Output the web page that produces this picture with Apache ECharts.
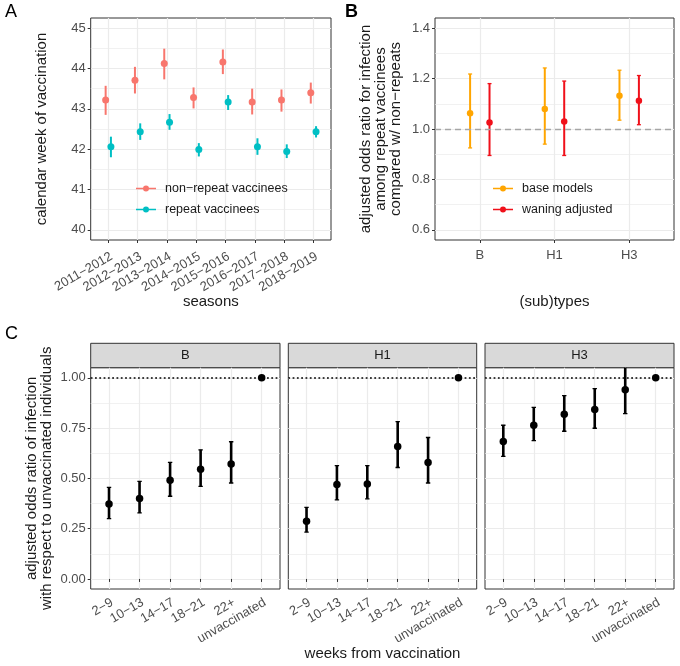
<!DOCTYPE html>
<html><head><meta charset="utf-8">
<script src="https://cdn.jsdelivr.net/npm/echarts@6/dist/echarts.min.js"></script>
<style>html,body{margin:0;padding:0;background:#fff}#c{width:680px;height:666px}</style>
</head><body><div id="c"></div>
<script>
// ---------- Panel A data ----------
const seasons = ['2011−2012','2012−2013','2013−2014','2014−2015','2015−2016','2016−2017','2017−2018','2018−2019'];
const nonRepeatMean = [43.22,43.71,44.12,43.28,44.16,43.17,43.22,43.40];
const nonRepeatLo   = [42.85,43.38,43.73,43.01,43.86,42.86,42.93,43.13];
const nonRepeatHi   = [43.57,44.04,44.49,43.53,44.47,43.50,43.48,43.65];
const repeatMean    = [42.06,42.43,42.67,41.99,43.17,42.06,41.94,42.43];
const repeatLo      = [41.80,42.23,42.48,41.82,42.97,41.86,41.78,42.29];
const repeatHi      = [42.31,42.64,42.87,42.15,43.34,42.27,42.12,42.57];
const weekTicksA = [40,41,42,43,44,45];
const weekMinorA = [40.5,41.5,42.5,43.5,44.5];

// ---------- Panel B data ----------
const subtypes = ['B','H1','H3'];
const baseMean  = [1.062,1.079,1.132];
const baseLo    = [0.925,0.940,1.035];
const baseHi    = [1.218,1.242,1.233];
const waningMean= [1.026,1.030,1.112];
const waningLo  = [0.895,0.895,1.017];
const waningHi  = [1.180,1.190,1.212];
const orTicksB = [0.6,0.8,1.0,1.2,1.4];
const orMinorB = [0.7,0.9,1.1,1.3];

// ---------- Panel C data ----------
const weekBins = ['2−9','10−13','14−17','18−21','22+','unvaccinated'];
const facets = ['B','H1','H3'];
const cMean = {
  B:  [0.372,0.400,0.490,0.545,0.571,1.0],
  H1: [0.287,0.469,0.472,0.658,0.579,1.0],
  H3: [0.683,0.764,0.818,0.842,0.941,1.0]
};
const cLo = {
  B:  [0.300,0.328,0.411,0.460,0.477,null],
  H1: [0.233,0.393,0.398,0.554,0.477,null],
  H3: [0.609,0.688,0.734,0.749,0.822,null]
};
const cHi = {
  B:  [0.455,0.485,0.579,0.642,0.682,null],
  H1: [0.356,0.563,0.563,0.782,0.703,null],
  H3: [0.764,0.853,0.911,0.946,1.070,null]
};
const orTicksC = [0,0.25,0.5,0.75,1];
const orMinorC = [0.125,0.375,0.625,0.875];

// ---------- styling / layout ----------
const F = 'Liberation Sans, Arial, Helvetica, sans-serif';
const GRID = '#ebebeb', BORDER = '#333333', TICKC = '#4d4d4d';
const LAY = {
  A: {left:90.7, top:18, width:240.3, height:222},
  B: {left:435, top:18, width:239, height:222},
  C: [{left:90.7, width:189.3},{left:288.3, width:188.4},{left:485, width:189}],
  cTop:367.7, cHeight:221.3, stripTop:343.3, stripH:24.4
};

function idx(n){ return Array.from({length:n},(_, i)=>i+1); }

function gridOf(l){
  return {left:l.left, top:l.top, width:l.width, height:l.height, show:true,
    borderColor:BORDER, borderWidth:1, backgroundColor:'#fff',
    containLabel:false, outerBoundsMode:'none'};
}
function xAxisOf(g, n, labels, o){
  o = o || {};
  const ticks = idx(n);
  const lab = {show:true, customValues:ticks, formatter:v=>labels[Math.round(v)-1],
      rotate:o.rotate||0, color:TICKC, fontSize:13, fontFamily:F, margin:o.margin||5, hideOverlap:false};
  if (o.rotate){ lab.align = 'right'; lab.verticalAlign = 'top'; }
  return {type:'value', gridIndex:g, min:1-o.exp, max:n+o.exp,
    axisLine:{show:false},
    axisTick:{show:true, length:3, lineStyle:{color:BORDER,width:1}, customValues:ticks},
    axisLabel:lab,
    splitLine:{show:true, lineStyle:{color:GRID,width:1.2}},
    name:o.name||'', nameLocation:'middle', nameGap:o.nameGap||30, nameMoveOverlap:false,
    nameTextStyle:{fontSize:15, color:'#1a1a1a', fontFamily:F}};
}
function yAxisOf(g, min, max, ticks, fmt, o){
  o = o || {};
  return {type:'value', gridIndex:g, min:min, max:max, position:'left',
    axisLine:{show:false},
    axisTick:{show:!o.hide, length:3, lineStyle:{color:BORDER,width:1}, customValues:ticks},
    axisLabel:{show:!o.hide, customValues:ticks, formatter:fmt, color:TICKC, fontSize:13, fontFamily:F, margin:5},
    splitLine:{show:true, lineStyle:{color:GRID,width:1.2}},
    name:o.name||'', nameLocation:'middle', nameGap:o.nameGap||30, nameMoveOverlap:false,
    nameTextStyle:{fontSize:15, color:'#1a1a1a', fontFamily:F, lineHeight:15, align:'center'}};
}
function yMinorOf(g, min, max, ticks){
  return {type:'value', gridIndex:g, min:min, max:max, position:'left',
    axisLine:{show:false}, axisLabel:{show:false},
    axisTick:{show:false, customValues:ticks},
    splitLine:{show:true, lineStyle:{color:GRID,width:0.7}}};
}
function errorBar(color, lw, cap){
  return function(params, api){
    const x = api.value(0);
    const a = api.coord([x, api.value(1)]);
    const b = api.coord([x, api.value(2)]);
    const ch = [{type:'line', shape:{x1:a[0],y1:a[1],x2:b[0],y2:b[1]}, style:{stroke:color,lineWidth:lw}}];
    if (cap > 0){
      ch.push({type:'line', shape:{x1:a[0]-cap,y1:a[1],x2:a[0]+cap,y2:a[1]}, style:{stroke:color,lineWidth:1.3}});
      ch.push({type:'line', shape:{x1:b[0]-cap,y1:b[1],x2:b[0]+cap,y2:b[1]}, style:{stroke:color,lineWidth:1.3}});
    }
    return {type:'group', children:ch};
  };
}
const keyIcon = 'path://M0,2.35H20V3.65H0Z M7,3A3,3 0 1,1 13,3A3,3 0 1,1 7,3Z';

// ---------- build ----------
const grids = [gridOf(LAY.A), gridOf(LAY.B)];
LAY.C.forEach(c => grids.push(gridOf({left:c.left, top:LAY.cTop, width:c.width, height:LAY.cHeight})));

const xAxes = [
  xAxisOf(0, seasons.length, seasons, {exp:0.6, rotate:30, margin:10, name:'seasons', nameGap:54}),
  xAxisOf(1, subtypes.length, subtypes, {exp:0.6, margin:9, name:'(sub)types', nameGap:54}),
  xAxisOf(2, weekBins.length, weekBins, {exp:0.6, rotate:30, margin:7}),
  xAxisOf(3, weekBins.length, weekBins, {exp:0.6, rotate:30, margin:7, name:'weeks from vaccination', nameGap:57}),
  xAxisOf(4, weekBins.length, weekBins, {exp:0.6, rotate:30, margin:7})
];
const yAxes = [
  yAxisOf(0, 39.75, 45.25, weekTicksA, v=>String(v), {name:'calendar week of vaccination', nameGap:41}),
  yMinorOf(0, 39.75, 45.25, weekMinorA),
  yAxisOf(1, 0.56, 1.44, orTicksB, v=>v.toFixed(1), {name:'adjusted odds ratio for infection\namong repeat vaccinees\ncompared w/ non−repeats', nameGap:32}),
  yMinorOf(1, 0.56, 1.44, orMinorB)
];
facets.forEach((f, k) => {
  const g = 2 + k;
  yAxes.push(yAxisOf(g, -0.05, 1.05, orTicksC, v=>v.toFixed(2),
    k === 0 ? {name:'adjusted odds ratio of infection\nwith respect to unvaccinated individuals', nameGap:36} : {hide:true}));
  yAxes.push(yMinorOf(g, -0.05, 1.05, orMinorC));
});

const series = [];
function addPointRange(name, xi, yi, mean, lo, hi, dodge, color, lw, cap, size){
  series.push({type:'custom', name:name+'_err', coordinateSystem:'cartesian2d', xAxisIndex:xi, yAxisIndex:yi,
    clip:true, silent:true, z:2,
    data: mean.map((m,i)=>[i+1+dodge, lo[i], hi[i]]).filter(d=>d[1]!=null),
    renderItem: errorBar(color, lw, cap)});
  series.push({type:'scatter', name:name, xAxisIndex:xi, yAxisIndex:yi, z:3, silent:true,
    symbol:'circle', symbolSize:size, itemStyle:{color:color, opacity:1},
    data: mean.map((m,i)=>[i+1+dodge, m])});
}
addPointRange('non−repeat vaccinees', 0, 0, nonRepeatMean, nonRepeatLo, nonRepeatHi, -0.09, '#F8766D', 2, 0, 7);
addPointRange('repeat vaccinees', 0, 0, repeatMean, repeatLo, repeatHi, 0.09, '#00BFC4', 2, 0, 7);

series.push({type:'scatter', name:'refB', xAxisIndex:1, yAxisIndex:2, data:[], z:1, silent:true,
  markLine:{silent:true, symbol:'none', label:{show:false}, animation:false,
    lineStyle:{type:[6,4], color:'#a6a6a6', width:1.4}, data:[{yAxis:1}]}});
addPointRange('base models', 1, 2, baseMean, baseLo, baseHi, -0.13, '#FFA500', 2, 2, 6.5);
addPointRange('waning adjusted', 1, 2, waningMean, waningLo, waningHi, 0.13, '#F0101A', 2, 2, 6.5);

facets.forEach((f, k) => {
  const g = 2 + k;
  series.push({type:'scatter', name:'refC'+f, xAxisIndex:g, yAxisIndex:2*g, data:[], z:1, silent:true,
    markLine:{silent:true, symbol:'none', label:{show:false}, animation:false,
      lineStyle:{type:[1.8,2.5], color:'#000', width:1.7, cap:'butt'}, data:[{yAxis:1}]}});
  addPointRange('C'+f, g, 2*g, cMean[f], cLo[f], cHi[f], 0, '#000', 2.6, 2.2, 7.5);
});

const legendCommon = {orient:'vertical', itemWidth:20, itemHeight:6, itemGap:8, selectedMode:false,
  textStyle:{fontSize:12.5, color:'#1a1a1a', fontFamily:F, padding:[0,0,0,4]}};

const graphic = [
  {type:'text', left:5, top:3, style:{text:'A', fontSize:18, fontFamily:F, fill:'#000'}},
  {type:'text', left:345, top:3, style:{text:'B', fontSize:18, fontWeight:'bold', fontFamily:F, fill:'#000'}},
  {type:'text', left:5, top:325, style:{text:'C', fontSize:18, fontFamily:F, fill:'#000'}}
];
LAY.C.forEach((c, k) => {
  graphic.push({type:'rect', shape:{x:c.left, y:LAY.stripTop, width:c.width, height:LAY.stripH},
    style:{fill:'#d9d9d9', stroke:BORDER, lineWidth:1}});
  graphic.push({type:'text', x:c.left + c.width/2, y:LAY.stripTop + LAY.stripH/2,
    style:{text:facets[k], fontSize:13, fontFamily:F, fill:'#1a1a1a', align:'center', verticalAlign:'middle'}});
});

const option = {
  animation:false,
  backgroundColor:'#fff',
  grid:grids, xAxis:xAxes, yAxis:yAxes, series:series,
  legend:[
    Object.assign({}, legendCommon, {left:131, top:177,
      data:[{name:'non−repeat vaccinees', icon:keyIcon},{name:'repeat vaccinees', icon:keyIcon}]}),
    Object.assign({}, legendCommon, {left:488, top:177,
      data:[{name:'base models', icon:keyIcon},{name:'waning adjusted', icon:keyIcon}]})
  ],
  graphic:graphic
};
const chart = echarts.init(document.getElementById('c'), null, {renderer:'canvas'});
chart.setOption(option);
</script>
</body></html>
